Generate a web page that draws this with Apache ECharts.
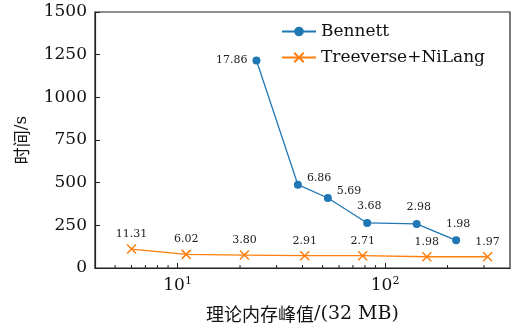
<!DOCTYPE html>
<html><head><meta charset="utf-8">
<script src="https://cdn.jsdelivr.net/npm/echarts@6/dist/echarts.min.js"></script>
<style>html,body{margin:0;padding:0;background:#fff}#c{width:513px;height:334px}</style>
</head><body><div id="c"></div>
<script>
const bennettX = [24, 38, 53, 82, 142, 220];
const bennettY = [1216, 488, 410, 264, 258, 162];
const bennettLabels = ['17.86', '6.86', '5.69', '3.68', '2.98', '1.98'];
const treeX = [6, 11, 21, 41, 78, 159, 312];
const treeY = [111, 80, 76, 72, 72, 66, 66];
const treeLabels = ['11.31', '6.02', '3.80', '2.91', '2.71', '1.98', '1.97'];
const yTicks = [0, 250, 500, 750, 1000, 1250, 1500];
const minorTicks = [5, 6, 7, 8, 9, 20, 30, 40, 50, 60, 70, 80, 90, 200, 300];
const seriesNames = ['Bennett', 'Treeverse+NiLang'];

const FONT = "'DejaVu Serif', 'Liberation Serif', serif";
const CJK = "'Noto Sans CJK SC', sans-serif";
const blue = '#1f77b4', orange = '#ff7f0e';
const xPath = 'path://M0,0L10,10M10,0L0,10';

const chart = echarts.init(document.getElementById('c'));
chart.setOption({
  animation: false,
  grid: {left: 95, right: 3, top: 12, bottom: 66, show: true, borderColor: '#222', borderWidth: 1.2},
  legend: {
    orient: 'vertical', left: 276, top: 18, itemWidth: 34, itemHeight: 12, itemGap: 9,
    textStyle: {fontFamily: FONT, fontSize: 17, color: '#111'},
    data: seriesNames
  },
  xAxis: {
    type: 'log', logBase: 10, min: 4, max: 400,
    name: '{c|理论内存峰值}{l|/(32 MB)}', nameLocation: 'middle', nameGap: 37,
    nameTextStyle: {fontSize: 18, color: '#111',
      rich: {c: {fontFamily: CJK, fontSize: 18, color: '#111'}, l: {fontFamily: FONT, fontSize: 19, color: '#111'}}},
    axisLine: {lineStyle: {color: '#222', width: 1.2}},
    axisTick: {inside: true, length: 5, lineStyle: {color: '#222'}},
    splitLine: {show: false},
    axisLabel: {
      showMinLabel: false, showMaxLabel: false, margin: 8,
      formatter: v => { const e = Math.round(Math.log10(v)); return Math.abs(Math.pow(10, e) - v) < 1e-6 ? '{b|10}{sup|' + e + '}' : ''; },
      rich: {b: {fontFamily: FONT, fontSize: 17, color: '#111'},
             sup: {fontFamily: FONT, fontSize: 11, color: '#111', padding: [0, 0, 9, 0]}},
      fontFamily: FONT, fontSize: 17, color: '#111'
    }
  },
  yAxis: {
    type: 'value', min: 0, max: 1500, interval: 250,
    name: '{c|时间}{l|/s}', nameLocation: 'middle', nameGap: 65, nameRotate: 90,
    nameTextStyle: {fontSize: 17, color: '#111',
      rich: {c: {fontFamily: CJK, fontSize: 17, color: '#111'}, l: {fontFamily: FONT, fontSize: 17, color: '#111'}}},
    axisLine: {show: true, lineStyle: {color: '#222', width: 1.2}},
    axisTick: {inside: true, length: 5, lineStyle: {color: '#222'}},
    splitLine: {show: false},
    axisLabel: {fontFamily: FONT, fontSize: 17, color: '#111', margin: 8,
      formatter: v => yTicks.includes(v) ? String(v) : ''}
  },
  series: [
    {
      name: seriesNames[0], type: 'line',
      data: bennettX.map((x, i) => ({
        value: [x, bennettY[i]],
        label: i === 0 ? {position: 'left', offset: [0, 0]} :
               (i <= 2 ? {position: 'right', offset: [0, -7]} : {position: 'top', offset: [2, -2]})
      })),
      symbol: 'circle', symbolSize: 8,
      lineStyle: {color: blue, width: 1.3},
      itemStyle: {color: blue},
      label: {show: true, fontFamily: FONT, fontSize: 11, color: '#222',
        formatter: p => bennettLabels[p.dataIndex]},
      z: 3
    },
    {
      name: seriesNames[1], type: 'line',
      data: treeX.map((x, i) => [x, treeY[i]]),
      symbol: xPath, symbolSize: 9,
      lineStyle: {color: orange, width: 1.3},
      itemStyle: {color: 'rgba(0,0,0,0)', borderColor: orange, borderWidth: 1.5},
      label: {show: true, position: 'top', distance: 4, fontFamily: FONT, fontSize: 11, color: '#222',
        formatter: p => treeLabels[p.dataIndex]},
      z: 2
    },
    {
      type: 'custom', silent: true, legendHoverLink: false,
      data: minorTicks.map(v => [v, 0]),
      renderItem: (params, api) => {
        const p = api.coord([api.value(0), 0]);
        return {type: 'line', shape: {x1: p[0], y1: p[1], x2: p[0], y2: p[1] - 3},
          style: {stroke: '#222', lineWidth: 1}};
      },
      z: 1
    }
  ]
});
</script></body></html>
